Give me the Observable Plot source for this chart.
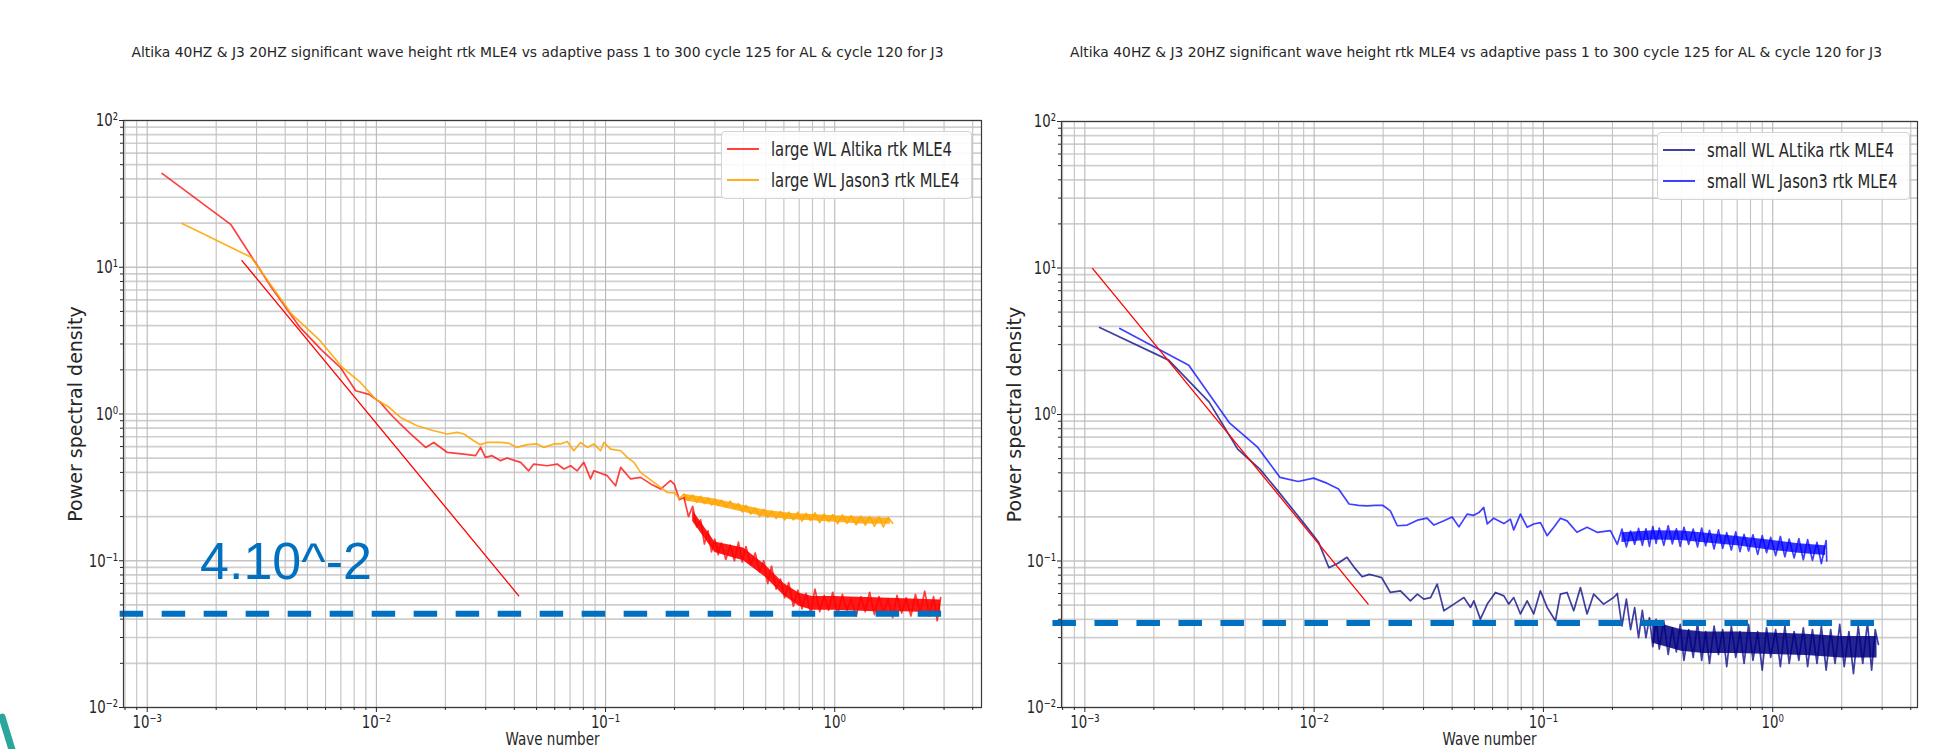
<!DOCTYPE html>
<html><head><meta charset="utf-8">
<script src="https://cdn.jsdelivr.net/npm/d3@7"></script>
<script src="https://cdn.jsdelivr.net/npm/@observablehq/plot@0.6"></script>
<style>
html,body{margin:0;padding:0;background:#fff;width:1938px;height:749px;overflow:hidden;position:relative;font-family:"DejaVu Sans",sans-serif}
.panel{position:absolute;top:0}
.legend{position:absolute;border:1px solid #d4d4d4;border-radius:4px;background:rgba(255,255,255,0.88);box-sizing:border-box}
.legend .sw{position:absolute;height:2px;left:5px;width:32px}
.legend .lab{position:absolute;left:49px;font-size:20px;color:#262626;white-space:nowrap;line-height:1;transform:translateY(-50%) scaleX(0.74);transform-origin:0 50%}
.deco{position:absolute;left:4px;top:713px;width:7px;height:44px;background:#2aa69a;transform:rotate(-17deg);border-radius:3px}
</style></head><body>
<div id="left" class="panel" style="left:0"></div>
<div id="right" class="panel" style="left:960px"></div>
<div class="deco"></div>
<script>
// ---------- text ----------
const titleText = "Altika 40HZ & J3 20HZ significant wave height rtk MLE4 vs adaptive pass 1 to 300 cycle 125 for AL & cycle 120 for J3";
const xLabel = "Wave number";
const yLabel = "Power spectral density";
const xTickValues = [1e-3, 1e-2, 1e-1, 1];
const xTickLabels = ["10⁻³", "10⁻²", "10⁻¹", "10⁰"];
const yTickValues = [1e-2, 1e-1, 1, 10, 100];
const yTickLabels = ["10⁻²", "10⁻¹", "10⁰", "10¹", "10²"];
const leftXDomain = [7.88e-4, 4.37];
const rightXDomain = [7.91e-4, 4.28];
const yDomain = [0.01, 100];

// ---------- left panel: large WL ----------
const largeNames = ["large WL Altika rtk MLE4", "large WL Jason3 rtk MLE4"];
const largeColors = ["#ff0000", "#ffa500"];
const largeAltikaK = [0.00116,0.00232,0.00348,0.00464,0.0058,0.00696,0.00812,0.00928,0.0104,0.0115,0.0127,0.0141,0.0164,0.0178,0.0204,0.0241,0.0271,0.0285,0.0299,0.032,0.0348,0.0372,0.0426,0.0462,0.0486,0.0556,0.0615,0.0658,0.0704,0.0752,0.0804,0.086,0.0889,0.1017,0.1106,0.1164,0.1286,0.1422,0.1573,0.174,0.192,
  0.2,0.21,0.22,0.23,0.24,0.25,0.26,0.27,0.28,0.29,0.3,0.31,0.32,0.335,0.35,0.365,0.38,0.395,0.41,0.43,0.45,0.47,0.49,0.51,0.53,0.555,0.58,0.605,0.63,0.66,0.69,0.72,0.75,0.785,0.82,0.86,0.9,0.94,0.98,1.03,1.08,1.13,1.18,1.24,1.3,1.36,1.42,1.49,1.56,1.63,1.71,1.79,1.87,1.96,2.05,2.15,2.25,2.36,2.47,2.59,2.7,2.8,2.9];
const largeAltikaP = [43.6,19.5,7.3,3.89,2.7,2.08,1.44,1.36,1.2,1.0,0.855,0.731,0.592,0.64,0.547,0.533,0.52,0.592,0.506,0.52,0.481,0.501,0.468,0.41,0.456,0.444,0.456,0.422,0.444,0.41,0.468,0.361,0.41,0.38,0.324,0.433,0.361,0.37,0.334,0.308,0.351,
  0.33,0.26,0.27,0.2,0.235,0.17,0.19,0.13,0.16,0.115,0.14,0.11,0.132,0.102,0.128,0.1,0.134,0.098,0.125,0.094,0.113,0.084,0.1,0.07,0.092,0.064,0.075,0.056,0.071,0.049,0.063,0.047,0.06,0.044,0.064,0.045,0.058,0.046,0.061,0.043,0.059,0.046,0.055,0.042,0.057,0.045,0.061,0.043,0.057,0.044,0.055,0.041,0.058,0.044,0.056,0.042,0.059,0.044,0.062,0.042,0.057,0.039,0.056];
const largeAltikaBandK  = [0.24,0.3,0.4,0.5,0.6,0.7,0.8,1.0,1.5,2.0,2.9];
const largeAltikaBandLo = [0.185,0.114,0.1,0.077,0.058,0.049,0.046,0.046,0.045,0.045,0.044];
const largeAltikaBandHi = [0.22,0.134,0.122,0.093,0.07,0.06,0.057,0.057,0.056,0.055,0.054];
const largeJason3K = [0.00142,0.00284,0.00426,0.00568,0.0071,0.00852,0.00994,0.01136,0.01273,0.01506,0.01779,0.0204,0.0225,0.0241,0.0266,0.0284,0.0304,0.0348,0.0378,0.0411,0.0455,0.0503,0.0538,0.0595,0.0636,0.068,0.0727,0.0778,0.0832,0.0889,0.0951,0.0984,0.1052,0.1164,0.1244,0.133,0.1375,0.142,0.152,0.1625,0.174,0.186,
  0.2,0.21,0.22,0.23,0.24,0.25,0.26,0.27,0.28,0.29,0.3,0.31,0.32,0.335,0.35,0.365,0.38,0.395,0.41,0.43,0.45,0.47,0.49,0.51,0.53,0.555,0.58,0.605,0.63,0.66,0.69,0.72,0.75,0.785,0.82,0.86,0.9,0.94,0.98,1.03,1.08,1.13,1.18,1.24,1.3,1.36,1.42,1.49,1.56,1.63,1.71,1.79];
const largeJason3P = [19.9,11.7,4.81,3.16,2.08,1.64,1.26,1.11,0.948,0.832,0.769,0.731,0.75,0.731,0.658,0.618,0.64,0.64,0.633,0.592,0.618,0.625,0.592,0.625,0.625,0.65,0.562,0.64,0.592,0.625,0.562,0.64,0.577,0.562,0.506,0.468,0.433,0.4,0.37,0.342,0.316,0.292,
  0.29,0.265,0.285,0.258,0.28,0.25,0.275,0.245,0.268,0.24,0.262,0.238,0.258,0.232,0.255,0.228,0.245,0.215,0.238,0.208,0.228,0.2,0.224,0.198,0.218,0.194,0.217,0.19,0.214,0.19,0.214,0.186,0.21,0.188,0.212,0.182,0.208,0.185,0.206,0.179,0.205,0.18,0.203,0.176,0.201,0.175,0.2,0.172,0.199,0.17,0.197,0.18];
const largeJason3BandK  = [0.22,0.3,0.4,0.5,0.65,0.8,1.0,1.3,1.75];
const largeJason3BandLo = [0.256,0.237,0.214,0.199,0.19,0.187,0.183,0.178,0.177];
const largeJason3BandHi = [0.284,0.263,0.238,0.221,0.21,0.207,0.203,0.198,0.195];
const largeFitK = [0.00259, 0.0418];
const largeFitP = [11.1, 0.0577];
const largeNoiseLevel = 0.0436;
const largeNoiseK = [7.62e-4, 2.93];
const largeNoteText = "4.10^-2";
const largeNoteK = 1.70e-3;
const largeNoteP = 0.098;

// ---------- right panel: small WL ----------
const smallNames = ["small WL ALtika rtk MLE4", "small WL Jason3 rtk MLE4"];
const smallColors = ["#000080", "#0000ff"];
const smallAltikaK = [0.00116,0.00232,0.00348,0.00464,0.0058,0.00696,0.00812,0.00928,0.01044,0.0116,0.01276,0.0139,0.01508,0.0162,0.0174,0.01856,0.0197,0.0215,0.0238,0.0263,0.0282,0.0301,0.0322,0.0344,0.0368,0.0407,0.045,0.0481,0.0497,0.0531,0.0569,0.0618,0.0672,0.0706,0.0742,0.0794,0.0849,0.0907,0.097,0.1038,0.1128,0.1186,0.1268,0.1356,0.145,0.155,0.1657,0.183,0.2024,
  0.21,0.22,0.23,0.24,0.25,0.26,0.27,0.28,0.29,0.3,0.31,0.32,0.335,0.35,0.365,0.38,0.395,0.41,0.43,0.45,0.47,0.49,0.51,0.53,0.555,0.58,0.605,0.63,0.66,0.69,0.72,0.75,0.785,0.82,0.86,0.9,0.94,0.98,1.03,1.08,1.13,1.18,1.24,1.3,1.36,1.42,1.49,1.56,1.63,1.71,1.79,1.87,1.96,2.05,2.15,2.25,2.36,2.47,2.59,2.7,2.8,2.89];
const smallAltikaP = [3.93,2.35,1.22,0.58,0.424,0.3,0.222,0.171,0.135,0.09,0.097,0.106,0.089,0.078,0.081,0.079,0.077,0.061,0.0626,0.0535,0.0594,0.0549,0.0563,0.0695,0.0457,0.0508,0.0563,0.0482,0.0535,0.0401,0.0508,0.061,0.0578,0.0508,0.0563,0.0435,0.0535,0.0435,0.0626,0.0482,0.0391,0.0594,0.061,0.0457,0.0659,0.0435,0.0594,0.0508,0.0563,
  0.06,0.036,0.055,0.034,0.048,0.03,0.046,0.03,0.041,0.026,0.04,0.025,0.039,0.023,0.035,0.024,0.037,0.021,0.034,0.022,0.038,0.021,0.033,0.02,0.036,0.023,0.034,0.019,0.036,0.022,0.033,0.02,0.037,0.021,0.033,0.018,0.035,0.022,0.034,0.019,0.036,0.02,0.033,0.021,0.035,0.019,0.034,0.02,0.036,0.018,0.034,0.02,0.037,0.019,0.033,0.017,0.036,0.02,0.038,0.018,0.034,0.027];
const smallAltikaBandK  = [0.3,0.4,0.5,0.7,1.0,1.4,2.0,2.85];
const smallAltikaBandLo = [0.0275,0.0242,0.0234,0.0234,0.023,0.0226,0.0218,0.0218];
const smallAltikaBandHi = [0.0385,0.034,0.0328,0.0328,0.0322,0.0316,0.0305,0.0305];
const smallJason3K = [0.00142,0.00284,0.00426,0.00568,0.0071,0.00852,0.00994,0.01136,0.01278,0.0142,0.0156,0.017,0.0185,0.0199,0.0215,0.02305,0.02548,0.0282,0.0311,0.0333,0.0368,0.04,0.0428,0.0465,0.0497,0.0523,0.0549,0.0569,0.0607,0.0672,0.0718,0.0742,0.0794,0.0849,0.0907,0.097,0.1038,0.111,0.1186,0.1268,0.14,0.155,0.1714,0.196,
  0.21,0.22,0.23,0.24,0.25,0.26,0.27,0.28,0.29,0.3,0.31,0.32,0.335,0.35,0.365,0.38,0.395,0.41,0.43,0.45,0.47,0.49,0.51,0.53,0.555,0.58,0.605,0.63,0.66,0.69,0.72,0.75,0.785,0.82,0.86,0.9,0.94,0.98,1.03,1.08,1.13,1.18,1.24,1.3,1.36,1.42,1.49,1.56,1.63,1.71,1.72];
const smallJason3P = [3.87,2.17,0.881,0.596,0.372,0.349,0.368,0.34,0.31,0.245,0.24,0.238,0.24,0.24,0.22,0.174,0.176,0.19,0.196,0.176,0.188,0.2,0.171,0.209,0.205,0.214,0.232,0.179,0.196,0.18,0.193,0.163,0.209,0.17,0.179,0.183,0.149,0.17,0.196,0.188,0.157,0.17,0.157,0.161,
  0.13,0.165,0.125,0.16,0.13,0.167,0.128,0.166,0.126,0.172,0.132,0.168,0.128,0.174,0.131,0.166,0.126,0.17,0.13,0.165,0.125,0.168,0.127,0.162,0.121,0.163,0.122,0.156,0.119,0.158,0.116,0.152,0.117,0.151,0.111,0.149,0.114,0.145,0.109,0.147,0.107,0.141,0.105,0.142,0.102,0.14,0.101,0.134,0.096,0.138,0.1];
const smallJason3BandK  = [0.22,0.3,0.4,0.5,0.7,1.0,1.3,1.7];
const smallJason3BandLo = [0.134,0.139,0.138,0.133,0.127,0.118,0.113,0.109];
const smallJason3BandHi = [0.156,0.161,0.16,0.155,0.147,0.138,0.131,0.127];
const smallFitK = [0.00108, 0.0172];
const smallFitP = [9.93, 0.0508];
const smallNoiseLevel = 0.0377;
const smallNoiseK = [7.26e-4, 2.82];

// ---------- helpers ----------
const rows = (K, P) => K.map((k, i) => ({k, p: P[i]}));
const bandRows = (K, L, H) => K.map((k, i) => ({k, lo: L[i], hi: H[i]}));
const minorOf = (exps) => exps.flatMap(e => [2,3,4,5,6,7,8,9].map(m => m * Math.pow(10, e)));
const xMinorAll = minorOf([-4,-3,-2,-1,0]);
const yMinor = minorOf([-2,-1,0,1]);
const FONT = "'DejaVu Sans', sans-serif";

function panel(cfg) {
  const inX = v => v >= cfg.xDomain[0] && v <= cfg.xDomain[1];
  const xMinor = xMinorAll.filter(inX);
  const series = cfg.series;
  return Plot.plot({
    width: cfg.width, height: 749,
    marginLeft: cfg.ml, marginRight: cfg.mr, marginTop: cfg.mt, marginBottom: cfg.mb,
    x: {type: "log", domain: cfg.xDomain},
    y: {type: "log", domain: yDomain},
    style: {background: "transparent", overflow: "visible", fontFamily: FONT, color: "#262626"},
    marks: [
      Plot.gridY(yMinor, {stroke: "#cfcfcf", strokeOpacity: 1, strokeWidth: 1.7}),
      Plot.gridY(yTickValues, {stroke: "#c4c4c4", strokeOpacity: 1, strokeWidth: 1.7}),
      Plot.gridX(xMinor, {stroke: "#c2c2c2", strokeOpacity: 1, strokeWidth: 1.1}),
      Plot.gridX(xTickValues, {stroke: "#b8b8b8", strokeOpacity: 1, strokeWidth: 1.1}),
      ...series.map(s => Plot.areaY(bandRows(s.bk, s.blo, s.bhi), {x: "k", y1: "lo", y2: "hi", fill: s.color, fillOpacity: s.bandOpacity})),
      ...series.map(s => Plot.line(rows(s.k, s.p), {x: "k", y: "p", stroke: s.color, strokeOpacity: s.opacity, strokeWidth: 1.7, strokeLinejoin: "round"})),
      Plot.line(rows(cfg.fitK, cfg.fitP), {x: "k", y: "p", stroke: "#ff0000", strokeWidth: 1.3}),
      Plot.ruleY([cfg.noise], {x1: () => cfg.noiseK[0], x2: () => cfg.noiseK[1], stroke: "#0070c0", strokeWidth: 6, strokeDasharray: "23.5,18.5"}),
      ...(cfg.note ? [Plot.text([cfg.note.text], {x: () => cfg.note.k, y: () => cfg.note.p, text: d => d, textAnchor: "start", lineAnchor: "middle", fontSize: 52, fill: "#0070c0", fontFamily: "'Liberation Sans', Arial, sans-serif"})] : []),
      Plot.frame({stroke: "#3a3a3a", strokeWidth: 1.2}),
      Plot.axisX(xMinor, {tickSize: 3, tickFormat: () => "", label: null}),
      Plot.axisX(xTickValues, {tickSize: 5, tickPadding: 3, fontSize: 18, label: null, tickFormat: d => xTickLabels[xTickValues.indexOf(d)]}),
      Plot.axisY(yMinor, {tickSize: 3, tickFormat: () => "", label: null}),
      Plot.axisY(yTickValues, {tickSize: 4, tickPadding: 1.5, fontSize: 18, label: null, tickFormat: d => yTickLabels[yTickValues.indexOf(d)]}),
      Plot.text([titleText], {frameAnchor: "top", text: d => d, textAnchor: "middle", lineAnchor: "middle", dx: cfg.titleDx, dy: cfg.titleDy, fontSize: 14, fill: "#262626"}),
      Plot.text([xLabel], {frameAnchor: "bottom", text: d => d, textAnchor: "middle", lineAnchor: "middle", dy: 32.5, fontSize: 17, fill: "#262626"}),
      Plot.text([yLabel], {frameAnchor: "left", text: d => d, textAnchor: "middle", lineAnchor: "middle", rotate: -90, dx: cfg.ylabelDx, fontSize: 19, fill: "#262626"})
    ]
  });
}

// horizontally condensed lettering as in the reference
function condense(svg) {
  const tickSet = new Set([...xTickLabels, ...yTickLabels]);
  svg.querySelectorAll("text").forEach(t => {
    const s = t.textContent;
    const L = t.getComputedTextLength();
    if (!L) return;
    let target = null;
    if (s === titleText) target = 812;
    else if (s === xLabel) target = 94;
    else if (tickSet.has(s)) target = L * 0.74;
    if (target != null) {
      t.setAttribute("textLength", target);
      t.setAttribute("lengthAdjust", "spacingAndGlyphs");
    }
  });
}

function legend(left, top, w, rowsY, names, colors, opac) {
  const box = document.createElement("div");
  box.className = "legend";
  Object.assign(box.style, {left: left + "px", top: top + "px", width: w + "px", height: "68px"});
  names.forEach((n, i) => {
    const sw = document.createElement("div");
    sw.className = "sw";
    Object.assign(sw.style, {top: (rowsY[i] - 1) + "px", background: colors[i], opacity: opac[i]});
    const lab = document.createElement("div");
    lab.className = "lab";
    lab.style.top = rowsY[i] + "px";
    lab.textContent = n;
    box.append(sw, lab);
  });
  document.body.append(box);
}

const leftSvg = panel({
  width: 1000, ml: 123, mr: 19, mt: 120, mb: 42, xDomain: leftXDomain,
  titleDx: -15, titleDy: -68, ylabelDx: -48,
  series: [
    {k: largeAltikaK, p: largeAltikaP, bk: largeAltikaBandK, blo: largeAltikaBandLo, bhi: largeAltikaBandHi, color: largeColors[0], opacity: 0.75, bandOpacity: 0.9},
    {k: largeJason3K, p: largeJason3P, bk: largeJason3BandK, blo: largeJason3BandLo, bhi: largeJason3BandHi, color: largeColors[1], opacity: 0.88, bandOpacity: 0.85}
  ],
  fitK: largeFitK, fitP: largeFitP, noise: largeNoiseLevel, noiseK: largeNoiseK,
  note: {text: largeNoteText, k: largeNoteK, p: largeNoteP}
});
document.getElementById("left").append(leftSvg);

const rightSvg = panel({
  width: 978, ml: 101, mr: 21, mt: 121, mb: 42, xDomain: rightXDomain,
  titleDx: -13.5, titleDy: -69, ylabelDx: -47,
  series: [
    {k: smallAltikaK, p: smallAltikaP, bk: smallAltikaBandK, blo: smallAltikaBandLo, bhi: smallAltikaBandHi, color: smallColors[0], opacity: 0.75, bandOpacity: 0.85},
    {k: smallJason3K, p: smallJason3P, bk: smallJason3BandK, blo: smallJason3BandLo, bhi: smallJason3BandHi, color: smallColors[1], opacity: 0.75, bandOpacity: 0.8}
  ],
  fitK: smallFitK, fitP: smallFitP, noise: smallNoiseLevel, noiseK: smallNoiseK
});
document.getElementById("right").append(rightSvg);

condense(leftSvg);
condense(rightSvg);

legend(721, 131, 251, [16.7, 48], largeNames, largeColors, [0.75, 0.88]);
legend(1657, 132, 253, [17, 48], smallNames, smallColors, [0.75, 0.75]);
</script>
</body></html>
